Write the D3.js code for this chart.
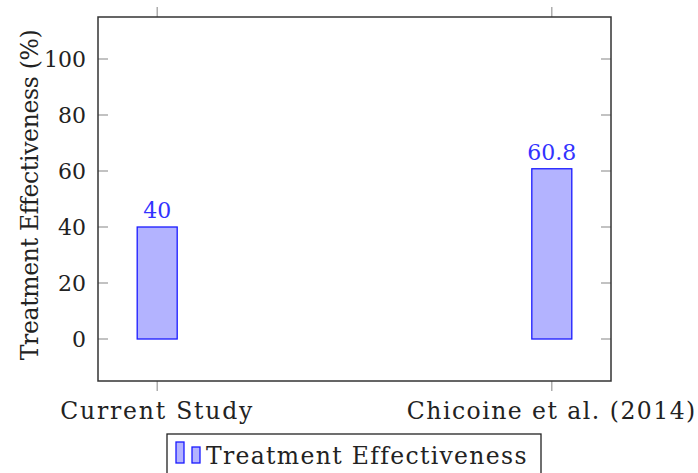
<!DOCTYPE html>
<html><head><meta charset="utf-8">
<script src="https://cdn.jsdelivr.net/npm/d3@7"></script>
<style>body{margin:0;background:#fff}text{font-family:"DejaVu Serif",serif}</style>
</head><body><svg id="c" width="698" height="473"></svg>
<script>
const categories = ["Current Study", "Chicoine et al. (2014)"];
const values = [40, 60.8];
const valueLabels = ["40", "60.8"];
const yTicks = [0, 20, 40, 60, 80, 100];
const seriesName = "Treatment Effectiveness";
const yTitle = "Treatment Effectiveness (%)";

const svg = d3.select("#c");
const L = 98, R = 611, T = 17, B = 381;
const x = d3.scaleLinear().domain([-0.15, 1.15]).range([L, R]);
const y = d3.scaleLinear().domain([-15, 115]).range([B, T]);
const fs = 22, fsT = 23.5;

function fit(sel, w) { // stretch text to a measured reference width
  sel.each(function() {
    const n = this.textContent.length;
    const cur = this.getComputedTextLength();
    if (n > 1) d3.select(this).attr("letter-spacing", ((w - cur) / n).toFixed(2));
  });
}

// bars
svg.selectAll("rect.bar").data(values).join("rect")
  .attr("x", (d,i) => x(i) - 20).attr("width", 40)
  .attr("y", d => y(d)).attr("height", d => y(0) - y(d))
  .attr("fill", "#b3b3ff").attr("stroke", "#1a1aff").attr("stroke-width", 1.3);

// value labels
svg.selectAll("text.val").data(values).join("text")
  .attr("x", (d,i) => x(i)).attr("y", d => y(d) - 9)
  .attr("text-anchor", "middle").attr("font-size", fs).attr("fill", "#3333ff")
  .text((d,i) => valueLabels[i]);

// y axis ticks (inside, both sides)
const gy = svg.append("g");
yTicks.forEach(t => {
  gy.append("line").attr("x1", L).attr("x2", L + 10).attr("y1", y(t)).attr("y2", y(t)).attr("stroke", "#999").attr("stroke-width", 1.2);
  gy.append("line").attr("x1", R - 10).attr("x2", R).attr("y1", y(t)).attr("y2", y(t)).attr("stroke", "#999").attr("stroke-width", 1.2);
  gy.append("text").attr("x", 86).attr("y", y(t) + 8).attr("text-anchor", "end").attr("font-size", fs).attr("fill", "#222").text(t);
});

// x ticks (outside, top & bottom)
const xlabW = [194, 290];
categories.forEach((c, i) => {
  svg.append("line").attr("x1", x(i)).attr("x2", x(i)).attr("y1", T).attr("y2", T - 10).attr("stroke", "#999").attr("stroke-width", 1.2);
  svg.append("line").attr("x1", x(i)).attr("x2", x(i)).attr("y1", B).attr("y2", B + 10).attr("stroke", "#999").attr("stroke-width", 1.2);
  const t = svg.append("text").attr("x", x(i)).attr("y", 419).attr("text-anchor", "middle").attr("font-size", fsT).attr("fill", "#222").text(c);
  fit(t, xlabW[i]);
});

// frame
svg.append("rect").attr("x", L).attr("y", T).attr("width", R - L).attr("height", B - T)
  .attr("fill", "none").attr("stroke", "#333").attr("stroke-width", 1.5);

// y title
const yt = svg.append("text").attr("transform", `translate(38,${(T+B)/2 - 4}) rotate(-90)`)
  .attr("text-anchor", "middle").attr("font-size", fsT).attr("fill", "#222").text(yTitle);
fit(yt, 330);

// legend
svg.append("rect").attr("x", 167).attr("y", 434).attr("width", 541 - 167).attr("height", 45)
  .attr("fill", "#fff").attr("stroke", "#222").attr("stroke-width", 1.3);
svg.append("rect").attr("x", 176).attr("y", 442).attr("width", 8).attr("height", 21)
  .attr("fill", "#b3b3ff").attr("stroke", "#1a1aff").attr("stroke-width", 1.3);
svg.append("rect").attr("x", 192).attr("y", 447).attr("width", 8).attr("height", 16)
  .attr("fill", "#b3b3ff").attr("stroke", "#1a1aff").attr("stroke-width", 1.3);
const lt = svg.append("text").attr("x", 206).attr("y", 464).attr("font-size", fsT).attr("fill", "#222").text(seriesName);
fit(lt, 321);
</script></body></html>
